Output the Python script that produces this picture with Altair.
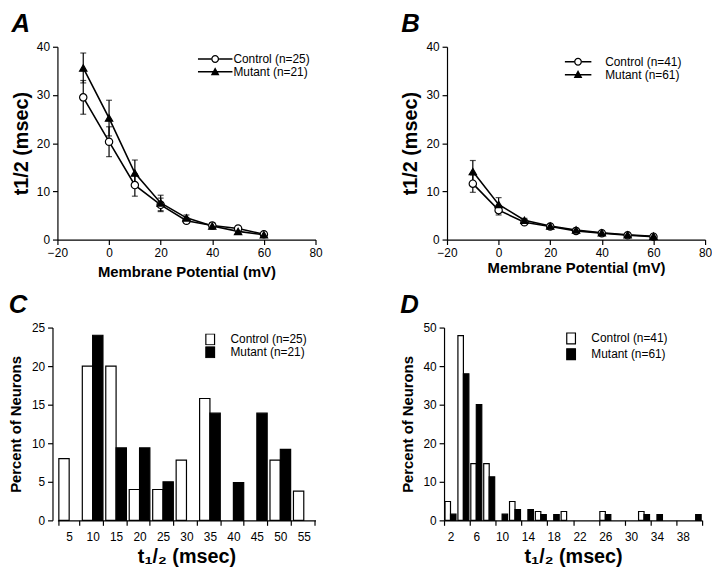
import altair as alt
import pandas as pd

FONT = "Liberation Sans"

# ---------- Panel A / B : t1/2 vs membrane potential ----------
volt = [-10, 0, 10, 20, 30, 40, 50, 60]
a_ctrl = [29.5, 20.3, 11.3, 7.2, 3.9, 2.9, 2.3, 1.1]
a_ctrl_err = [3.5, 3.1, 2.3, 1.4, 0.5, 0.5, 0.4, 0.3]
a_mut = [35.6, 25.2, 13.8, 7.6, 4.5, 2.8, 1.7, 1.0]
a_mut_err = [3.1, 3.7, 2.7, 1.6, 0.6, 0.6, 0.4, 0.3]

b_ctrl = [11.6, 6.1, 3.6, 2.7, 1.8, 1.3, 0.9, 0.6]
b_ctrl_err = [1.8, 1.0, 0.4, 0.3, 0.2, 0.2, 0.1, 0.1]
b_mut = [14.1, 7.3, 4.0, 2.8, 2.0, 1.4, 1.0, 0.7]
b_mut_err = [2.3, 1.4, 0.4, 0.3, 0.2, 0.2, 0.1, 0.1]

# ---------- Panel C : histogram (5 ms bins) ----------
c_bins = ["5", "10", "15", "20", "25", "30", "35", "40", "45", "50", "55"]
c_ctrl = [8, 20, 20, 4, 4, 7.8, 15.8, 0, 0, 7.8, 3.8]
c_mut = [0, 24, 9.4, 9.4, 5, 0, 13.9, 4.9, 13.9, 9.2, 0]

# ---------- Panel D : histogram (2 ms bins) ----------
d_bins = [2, 4, 6, 8, 10, 12, 14, 16, 18, 20, 22, 24, 26, 28, 30, 32, 34, 36, 38, 40]
d_ctrl = [4.9, 47.9, 14.7, 14.7, 0, 4.9, 0, 2.3, 0, 2.3, 0, 0, 2.3, 0, 0, 2.3, 0, 0, 0, 0]
d_mut = [1.6, 38.0, 30.0, 11.3, 1.6, 2.8, 2.8, 1.5, 1.5, 0, 0, 0, 1.5, 0, 0, 1.5, 1.5, 0, 0, 1.5]

W, H = 261, 195


def letter_title(t):
    return alt.TitleParams(t, anchor="start", font=FONT, fontSize=26, fontStyle="italic",
                           fontWeight="bold", color="black", offset=4)


def f(v):
    return f"{v:.3f}"


def ring_line_path(half_px, r_px, lw_px):
    """Legend glyph: horizontal line with an open circle, built only from filled areas."""
    R = r_px / half_px
    ri = (r_px - 1.3) / half_px
    h = lw_px / 2 / half_px
    return (f"M-1,{f(-h)}L{f(-R)},{f(-h)}L{f(-R)},{f(h)}L-1,{f(h)}Z "
            f"M{f(R)},{f(-h)}L1,{f(-h)}L1,{f(h)}L{f(R)},{f(h)}Z "
            f"M{f(R)},0A{f(R)},{f(R)} 0 1,1 {f(-R)},0A{f(R)},{f(R)} 0 1,1 {f(R)},0Z "
            f"M{f(ri)},0A{f(ri)},{f(ri)} 0 1,0 {f(-ri)},0A{f(ri)},{f(ri)} 0 1,0 {f(ri)},0Z")


def tri_line_path(half_px, r_px, lw_px):
    """Legend glyph: horizontal line with a filled triangle."""
    t = r_px / half_px
    h = lw_px / 2 / half_px
    return (f"M-1,{f(-h)}L1,{f(-h)}L1,{f(h)}L-1,{f(h)}Z "
            f"M0,{f(-1.15 * t)}L{f(1.1 * t)},{f(0.85 * t)}L{f(-1.1 * t)},{f(0.85 * t)}Z")


def line_panel(letter, ctrl, ctrl_err, mut, mut_err, n_c, n_m,
               leg_half, leg_x, leg_y, leg_lab_off, leg_clip, xt_pad):
    lab_c = f"Control (n={n_c})"
    lab_m = f"Mutant (n={n_m})"
    dom = [lab_c, lab_m]
    df = pd.DataFrame({
        "v": volt * 2,
        "series": [lab_c] * len(volt) + [lab_m] * len(volt),
        "t": ctrl + mut,
        "err": ctrl_err + mut_err,
    })
    base = alt.Chart(df).transform_calculate(lo="datum.t - datum.err", hi="datum.t + datum.err")
    x = alt.X("v:Q", scale=alt.Scale(domain=[-20, 80], nice=False, zero=False),
              axis=alt.Axis(values=[-20, 0, 20, 40, 60, 80], title="Membrane  Potential  (mV)",
                            titleFontSize=15, titleFontWeight="bold", titlePadding=xt_pad,
                            labelFlush=False, labelOverlap=False))
    y = alt.Y("t:Q", scale=alt.Scale(domain=[0, 40], nice=False),
              axis=alt.Axis(values=list(range(0, 41, 5)), title="t1/2 (msec)",
                            titleFontSize=20, titleFontWeight="bold", titlePadding=5))
    lines = base.mark_line(color="black", strokeWidth=1.6).encode(x=x, y=y, detail="series:N")
    rules = base.mark_rule(color="black", strokeWidth=1.2).encode(x="v:Q", y="lo:Q", y2="hi:Q")
    cap_lo = base.mark_tick(color="black", orient="horizontal", size=6, thickness=1.2).encode(
        x="v:Q", y="lo:Q")
    cap_hi = base.mark_tick(color="black", orient="horizontal", size=6, thickness=1.2).encode(
        x="v:Q", y="hi:Q")
    pts = base.mark_point(filled=True, size=55, stroke="black", strokeWidth=1.2, opacity=1).encode(
        x="v:Q", y="t:Q",
        shape=alt.Shape("series:N", scale=alt.Scale(domain=dom, range=["circle", "triangle-up"]),
                        legend=None),
        fill=alt.Fill("series:N", scale=alt.Scale(domain=dom, range=["white", "black"]), legend=None),
    )
    glyphs = [ring_line_path(leg_half, 4.0, 1.5), tri_line_path(leg_half, 4.0, 1.5)]
    leg = alt.Chart(df).transform_filter("false").mark_point(
        filled=True, color="black", opacity=1).encode(
        shape=alt.Shape("series:N", scale=alt.Scale(domain=dom, range=glyphs),
                        legend=alt.Legend(title=None, orient="none", legendX=leg_x, legendY=leg_y,
                                          symbolSize=(2 * leg_half) ** 2, labelOffset=leg_lab_off,
                                          clipHeight=leg_clip, rowPadding=0, padding=0,
                                          labelFontSize=12, labelFont=FONT, labelColor="black",
                                          symbolFillColor="black", symbolStrokeWidth=0)),
    )
    return alt.layer(lines, rules, cap_lo, cap_hi, pts, leg).resolve_scale(
        shape="independent", fill="independent").resolve_legend(
        shape="independent", fill="independent").properties(
        width=W, height=H, title=letter_title(letter))


rect_path = "M-0.8,-1L0.8,-1L0.8,1L-0.8,1Z"


def bar_legend(x, y, clip, row_pad):
    return alt.Legend(title=None, orient="none", legendX=x, legendY=y, symbolType=rect_path,
                      symbolSize=121, labelOffset=14, clipHeight=clip, rowPadding=row_pad,
                      padding=0, labelFontSize=12, labelFont=FONT, labelColor="black",
                      symbolStrokeColor="black", symbolStrokeWidth=1.2)


# Panel C
lab_c_c, lab_c_m = "Control (n=25)", "Mutant (n=21)"
dfc = pd.DataFrame({
    "bin": c_bins * 2,
    "series": [lab_c_c] * len(c_bins) + [lab_c_m] * len(c_bins),
    "pct": c_ctrl + c_mut,
})
panel_c = alt.Chart(dfc).transform_filter("datum.pct > 0").mark_bar(
    stroke="black", strokeWidth=1.2).encode(
    x=alt.X("bin:N", scale=alt.Scale(domain=c_bins, paddingInner=0.12, paddingOuter=0.06),
            axis=alt.Axis(tickBand="extent", labelAngle=0, title="t₁/₂ (msec)", titleFontSize=20,
                          titleFontWeight="bold", titlePadding=5, labelPadding=6)),
    xOffset=alt.XOffset("series:N", scale=alt.Scale(domain=[lab_c_c, lab_c_m])),
    y=alt.Y("pct:Q", scale=alt.Scale(domain=[0, 25], nice=False),
            axis=alt.Axis(values=[0, 5, 10, 15, 20, 25], title="Percent of Neurons", offset=5,
                          titleFontSize=15, titleFontWeight="bold", titlePadding=8)),
    fill=alt.Fill("series:N", scale=alt.Scale(domain=[lab_c_c, lab_c_m], range=["white", "black"]),
                  legend=bar_legend(148, 6, 12, 1)),
).properties(width=W, height=H, title=letter_title("C"))

# Panel D
lab_d_c, lab_d_m = "Control (n=41)", "Mutant (n=61)"
dfd = pd.DataFrame({
    "t": d_bins * 2,
    "series": [lab_d_c] * len(d_bins) + [lab_d_m] * len(d_bins),
    "is_ctrl": [1] * len(d_bins) + [0] * len(d_bins),
    "pct": d_ctrl + d_mut,
})
panel_d = alt.Chart(dfd).transform_filter("datum.pct > 0").transform_calculate(
    x0="datum.is_ctrl == 1 ? datum.t - 0.85 : datum.t",
    x1="datum.is_ctrl == 1 ? datum.t : datum.t + 0.85",
).mark_bar(stroke="black", strokeWidth=1.2).encode(
    x=alt.X("x0:Q", scale=alt.Scale(domain=[1, 41], nice=False, zero=False),
            axis=alt.Axis(values=list(range(1, 42, 4)),
                          labelExpr="datum.value < 40 ? '' + (datum.value + 1) : ''",
                          labelOffset=6.5, labelFlush=False, labelOverlap=False,
                          title="t₁/₂ (msec)", titleFontSize=20, titleFontWeight="bold",
                          titlePadding=5, labelPadding=6)),
    x2="x1:Q",
    y=alt.Y("pct:Q", scale=alt.Scale(domain=[0, 50], nice=False),
            axis=alt.Axis(values=[0, 10, 20, 30, 40, 50], title="Percent of Neurons",
                          titleFontSize=15, titleFontWeight="bold", titlePadding=8)),
    y2=alt.datum(0),
    fill=alt.Fill("series:N", scale=alt.Scale(domain=[lab_d_c, lab_d_m], range=["white", "black"]),
                  legend=bar_legend(122, 4, 14, 2)),
).properties(width=W, height=H, title=letter_title("D"))

panel_a = line_panel("A", a_ctrl, a_ctrl_err, a_mut, a_mut_err, 25, 21,
                     17.5, 142, 6, 1, 12.7, 6)
panel_b = line_panel("B", b_ctrl, b_ctrl_err, b_mut, b_mut_err, 41, 61,
                     13.5, 119, 9, 14, 12.4, 2)

top_row = alt.hconcat(panel_a, panel_b, spacing=79).resolve_scale(
    shape="independent", fill="independent").resolve_legend(shape="independent", fill="independent")
bottom_row = alt.hconcat(panel_c, panel_d, spacing=85).resolve_scale(
    fill="independent").resolve_legend(fill="independent")

chart = alt.vconcat(top_row, bottom_row, spacing=13, padding=0).resolve_scale(
    shape="independent", fill="independent").resolve_legend(
    shape="independent", fill="independent").configure_view(stroke=None).configure_axis(
    labelFont=FONT, labelFontSize=12, labelColor="black", titleFont=FONT, titleColor="black",
    domainColor="black", tickColor="black", domainWidth=1.2, tickWidth=1.2, tickSize=5,
    grid=False, labelPadding=3,
)

chart.save("out.html", embed_options={"renderer": "svg", "actions": False})
